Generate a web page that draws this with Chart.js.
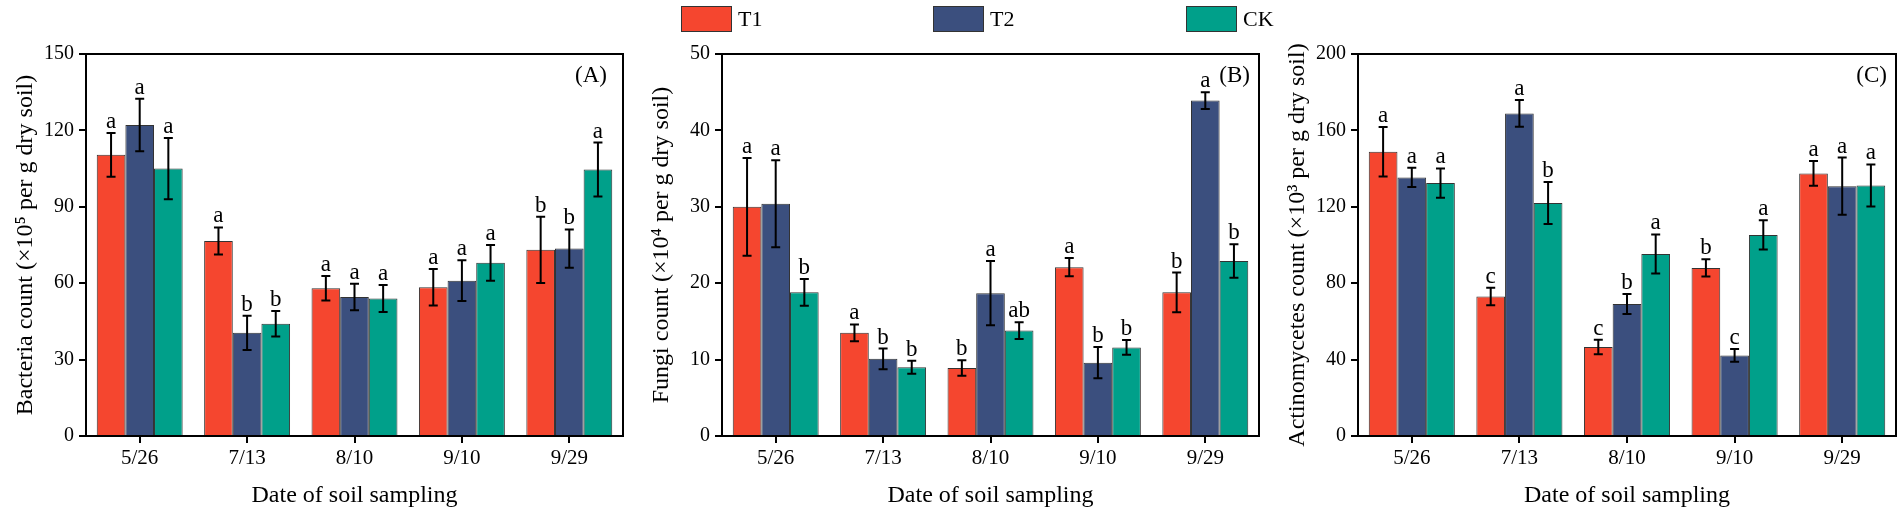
<!DOCTYPE html>
<html>
<head>
<meta charset="utf-8">
<script src="https://cdn.jsdelivr.net/npm/chart.js@4.4.1/dist/chart.umd.min.js"></script>
<style>
  body { margin: 0; background: #fff; width: 1902px; height: 515px; overflow: hidden; position: relative; font-family: "Liberation Serif", "Times New Roman", serif; }
  canvas { position: absolute; top: 0; }
  .leg { position: absolute; top: 6px; height: 26px; line-height: 26px; font-size: 22px; color: #000; }
  .leg span { position: absolute; left: 0; top: 0; width: 49px; height: 24px; border: 1px solid #333; }
  .leg b { position: absolute; left: 57px; top: 0; font-weight: normal; white-space: nowrap; }
</style>
</head>
<body>
<canvas id="chartA" width="640" height="515" style="left:0px"></canvas>
<canvas id="chartB" width="640" height="515" style="left:636px"></canvas>
<canvas id="chartC" width="630" height="515" style="left:1272px"></canvas>

<div class="leg" style="left:681px"><span style="background:#F5462F"></span><b>T1</b></div>
<div class="leg" style="left:933px"><span style="background:#3B4F7E"></span><b>T2</b></div>
<div class="leg" style="left:1186px"><span style="background:#00A08A"></span><b>CK</b></div>

<script>
const dates = ['5/26', '7/13', '8/10', '9/10', '9/29'];
const seriesNames = ['T1', 'T2', 'CK'];
const colors = ['#F5462F', '#3B4F7E', '#00A08A'];

// (A) bacteria, x10^5 per g dry soil
const bacT1 = [110.4, 76.6, 58.0, 58.4, 73.1];
const bacT2 = [122.1, 40.5, 54.6, 61.0, 73.6];
const bacCK = [105.0, 44.1, 54.0, 68.0, 104.6];
const bacErrT1 = [8.6, 5.3, 4.8, 7.2, 13.0];
const bacErrT2 = [10.3, 6.7, 5.2, 8.0, 7.5];
const bacErrCK = [12.0, 5.0, 5.3, 7.0, 10.6];
const bacLetT1 = ['a', 'a', 'a', 'a', 'b'];
const bacLetT2 = ['a', 'b', 'a', 'a', 'b'];
const bacLetCK = ['a', 'b', 'a', 'a', 'a'];

// (B) fungi, x10^4 per g dry soil
const funT1 = [30.0, 13.5, 8.9, 22.1, 18.8];
const funT2 = [30.4, 10.1, 18.7, 9.6, 43.9];
const funCK = [18.8, 9.0, 13.8, 11.6, 22.9];
const funErrT1 = [6.4, 1.1, 1.0, 1.2, 2.6];
const funErrT2 = [5.7, 1.35, 4.2, 2.05, 1.1];
const funErrCK = [1.75, 0.85, 1.1, 0.95, 2.2];
const funLetT1 = ['a', 'a', 'b', 'a', 'b'];
const funLetT2 = ['a', 'b', 'a', 'b', 'a'];
const funLetCK = ['b', 'b', 'ab', 'b', 'b'];

// (C) actinomycetes, x10^3 per g dry soil
const actT1 = [148.8, 73.0, 46.6, 88.0, 137.5];
const actT2 = [135.4, 168.9, 69.1, 42.2, 130.8];
const actCK = [132.4, 122.0, 95.3, 105.3, 131.2];
const actErrT1 = [13.0, 4.6, 3.8, 4.5, 6.5];
const actErrT2 = [5.0, 7.0, 5.2, 3.3, 15.0];
const actErrCK = [7.7, 11.0, 10.2, 7.6, 11.0];
const actLetT1 = ['a', 'c', 'c', 'b', 'a'];
const actLetT2 = ['a', 'a', 'b', 'c', 'a'];
const actLetCK = ['a', 'b', 'a', 'a', 'a'];

const FONT = '"Liberation Serif", "Times New Roman", serif';

// error bars, significance letters, plot frame and panel tag
const decorPlugin = {
  id: 'decor',
  afterDatasetsDraw(chart, args, opts) {
    const ctx = chart.ctx;
    const yScale = chart.scales.y;
    ctx.save();
    chart.data.datasets.forEach((ds, i) => {
      chart.getDatasetMeta(i).data.forEach((bar, j) => {
        const v = ds.data[j], e = ds.errors[j];
        const yt = yScale.getPixelForValue(v + e);
        const yb = yScale.getPixelForValue(v - e);
        ctx.strokeStyle = '#000';
        ctx.lineWidth = 2;
        ctx.beginPath();
        ctx.moveTo(bar.x, yt); ctx.lineTo(bar.x, yb);
        ctx.moveTo(bar.x - 4.5, yt); ctx.lineTo(bar.x + 4.5, yt);
        ctx.moveTo(bar.x - 4.5, yb); ctx.lineTo(bar.x + 4.5, yb);
        ctx.stroke();
        ctx.fillStyle = '#000';
        ctx.font = '23px ' + FONT;
        ctx.textAlign = 'center';
        ctx.textBaseline = 'alphabetic';
        ctx.fillText(ds.letters[j], bar.x, yt - 5);
      });
    });
    const a = chart.chartArea;
    ctx.strokeStyle = '#000';
    ctx.lineWidth = 2;
    ctx.strokeRect(a.left, a.top, a.right - a.left, a.bottom - a.top);
    ctx.fillStyle = '#000';
    ctx.font = '23px ' + FONT;
    ctx.textAlign = 'right';
    ctx.textBaseline = 'middle';
    ctx.fillText(opts.tag, a.right - opts.tagGap, a.top + 22);
    ctx.restore();
  }
};

function makeChart(id, values, errors, letters, max, step, yTitle, tag, tagGap, padRight) {
  const datasets = values.map((d, i) => ({
    label: seriesNames[i],
    data: d,
    errors: errors[i],
    letters: letters[i],
    backgroundColor: colors[i],
    borderColor: '#333',
    borderWidth: 1,
    categoryPercentage: 0.8,
    barPercentage: 1.0
  }));
  return new Chart(document.getElementById(id), {
    type: 'bar',
    data: { labels: dates, datasets },
    plugins: [decorPlugin],
    options: {
      responsive: false,
      animation: false,
      layout: { padding: { left: 0, right: padRight, top: 54, bottom: 0 } },
      plugins: {
        legend: { display: false },
        tooltip: { enabled: false },
        decor: { tag, tagGap }
      },
      scales: {
        x: {
          grid: { drawOnChartArea: false, offset: false, tickLength: 7, color: '#000', lineWidth: 2 },
          border: { display: true, color: '#000', width: 2 },
          ticks: { color: '#000', font: { family: FONT, size: 21 }, padding: 3, maxRotation: 0 },
          title: { display: true, text: 'Date of soil sampling', color: '#000', font: { family: FONT, size: 24 }, padding: { top: 0, bottom: 5 } },
          afterFit(s) { s.height = 79; }
        },
        y: {
          min: 0,
          max: max,
          grid: { drawOnChartArea: false, tickLength: 7, color: '#000', lineWidth: 2 },
          border: { display: true, color: '#000', width: 2 },
          ticks: { stepSize: step, color: '#000', font: { family: FONT, size: 20 }, padding: 5 },
          title: { display: true, text: yTitle, color: '#000', font: { family: FONT, size: 24 }, padding: { top: 11, bottom: 0 } },
          afterFit(s) { s.width = 86; }
        }
      }
    }
  });
}

makeChart('chartA', [bacT1, bacT2, bacCK], [bacErrT1, bacErrT2, bacErrCK], [bacLetT1, bacLetT2, bacLetCK],
  150, 30, 'Bacteria count (\u00d710\u2075 per g dry soil)', '(A)', 16, 17);
makeChart('chartB', [funT1, funT2, funCK], [funErrT1, funErrT2, funErrCK], [funLetT1, funLetT2, funLetCK],
  50, 10, 'Fungi count (\u00d710\u2074 per g dry soil)', '(B)', 9, 17);
makeChart('chartC', [actT1, actT2, actCK], [actErrT1, actErrT2, actErrCK], [actLetT1, actLetT2, actLetCK],
  200, 40, 'Actinomycetes count (\u00d710\u00b3 per g dry soil)', '(C)', 9, 6);
</script>
</body>
</html>
